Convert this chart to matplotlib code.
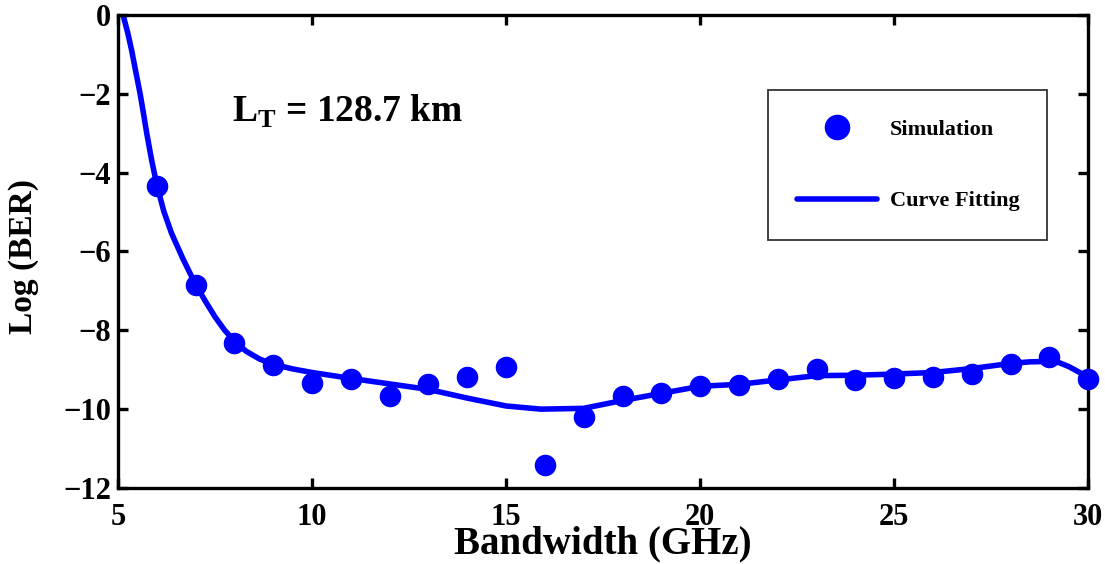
import numpy as np
import matplotlib.pyplot as plt

plt.rcParams['font.family'] = ['Liberation Serif', 'DejaVu Serif']
plt.rcParams['mathtext.fontset'] = 'custom'
plt.rcParams['mathtext.rm'] = 'Liberation Serif:bold'

# simulation points
bw_sim = [6, 7, 8, 9, 10, 11, 12, 13, 14, 15, 16, 17, 18, 19, 20,
          21, 22, 23, 24, 25, 26, 27, 28, 29, 30]
ber_sim = [-4.34, -6.85, -8.32, -8.88, -9.34, -9.24, -9.67, -9.37, -9.19, -8.93,
           -11.42, -10.2, -9.67, -9.59, -9.42, -9.39, -9.24, -8.98, -9.26, -9.21,
           -9.19, -9.11, -8.86, -8.68, -9.24]

# fitted curve, sampled off the figure
bw_fit = [5.13, 5.25, 5.35, 5.46, 5.57, 5.66, 5.74, 5.87, 6.0, 6.18, 6.38, 6.68,
          6.98, 7.25, 7.5, 7.75, 8.0, 8.3, 8.65, 9.0, 9.5, 10.0, 11.0, 12.0, 13.0,
          14.0, 15.0, 15.9, 17.0, 18.0, 19.0, 20.0, 21.0, 22.0, 23.0, 24.0, 25.0,
          26.0, 27.0, 28.0, 28.5, 29.0, 29.25, 29.5, 29.8, 30.0]
ber_fit = [0.0, -0.45, -0.89, -1.45, -2.0, -2.52, -3.0, -3.7, -4.31, -4.98, -5.54,
           -6.2, -6.8, -7.26, -7.66, -8.0, -8.27, -8.53, -8.73, -8.86, -8.98, -9.07,
           -9.22, -9.36, -9.5, -9.72, -9.92, -10.0, -9.98, -9.78, -9.6, -9.42, -9.37,
           -9.26, -9.15, -9.14, -9.11, -9.07, -8.97, -8.84, -8.8, -8.79, -8.82,
           -8.92, -9.08, -9.24]

fig = plt.figure(figsize=(11.05, 5.64), dpi=100)
ax = fig.add_axes([0.1068, 0.1348, 0.878, 0.8386])

ax.plot(bw_sim, ber_sim, 'o', color='#0000ff', markersize=14.5, label='Simulation',
        clip_on=False, zorder=3)
ax.plot(bw_fit, ber_fit, '-', color='#0000ff', linewidth=4, label='Curve Fitting',
        solid_capstyle='round', solid_joinstyle='round')

ax.set_xlim(5, 30)
ax.set_ylim(-12, 0)
ax.set_xticks([5, 10, 15, 20, 25, 30])
ax.set_yticks([-12, -10, -8, -6, -4, -2, 0])

for s in ax.spines.values():
    s.set_linewidth(2.4)
ax.tick_params(direction='in', length=7, width=2.4, top=True, right=True,
               labelsize=22, pad=5)
ax.tick_params(axis='x', pad=11)
for lab in ax.get_xticklabels() + ax.get_yticklabels():
    lab.set_fontweight('bold')

ax.set_xlabel('Bandwidth (GHz)', fontsize=28, fontweight='bold', labelpad=-5)
ax.set_ylabel('Log (BER)', fontsize=24, fontweight='bold')
ax.yaxis.set_label_coords(-0.081, 0.49)

ax.text(0.117, 0.796, r'L$_{\rm T}$ = 128.7 km', transform=ax.transAxes,
        fontsize=27, fontweight='bold', va='center', ha='left')

leg = ax.legend(loc='upper left', bbox_to_anchor=(0.67, 0.541, 0.288, 0.3),
                mode='expand', borderaxespad=0,
                prop={'size': 16, 'weight': 'bold'}, handlelength=3.6,
                handletextpad=0.6, labelspacing=2.3, borderpad=1.3,
                fancybox=False, framealpha=1, edgecolor='#333333',
                markerscale=1.2)
leg.get_frame().set_linewidth(1.3)

fig.savefig('out.png', dpi=100)
